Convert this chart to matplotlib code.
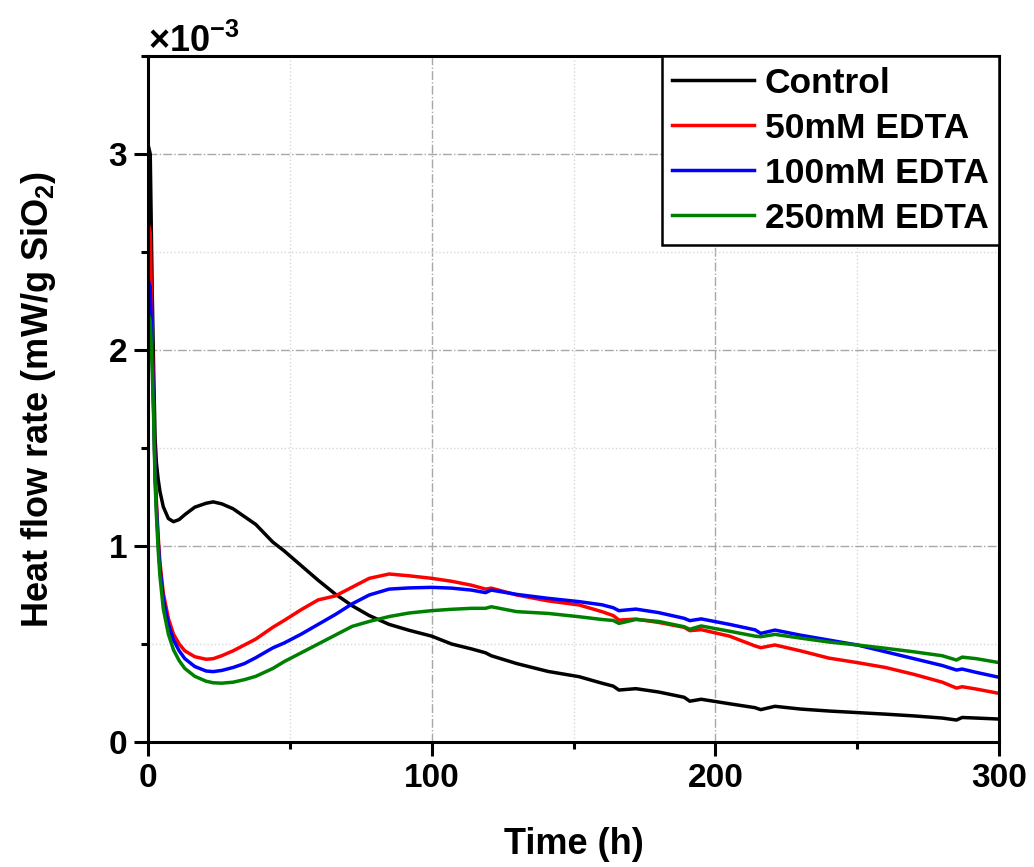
"""Heat flow rate vs time for silica with different EDTA concentrations."""

import matplotlib
matplotlib.use('Agg')
import matplotlib.pyplot as plt
from matplotlib.ticker import MultipleLocator, ScalarFormatter

plt.rcParams['font.family'] = ['Liberation Sans', 'DejaVu Sans']
plt.rcParams['font.weight'] = 'bold'
plt.rcParams['mathtext.fontset'] = 'custom'
plt.rcParams['mathtext.rm'] = 'Liberation Sans:bold'
plt.rcParams['mathtext.it'] = 'Liberation Sans:bold:italic'
plt.rcParams['mathtext.bf'] = 'Liberation Sans:bold'
plt.rcParams['mathtext.default'] = 'rm'

# time axis (h), shared by all series
hours = [0, 0.8, 1.5, 2, 2.5, 3, 3.6, 4.2, 5.4, 7.2, 9, 11, 13, 16.5, 20.5,
         23, 26, 30, 34, 38, 44, 48, 54, 60, 66, 72, 78, 85, 92, 100,
         107, 114, 119, 121, 130, 141, 152, 160, 164, 166, 172, 180, 189, 191, 195,
         205, 214, 216, 221, 230, 240, 250, 260, 270, 280, 285, 287, 292, 300]

# heat flow rate, in units of 1e-3 mW/g SiO2
control = [3.05, 3.0, 2.3, 1.9, 1.55, 1.42, 1.34, 1.28, 1.2, 1.14, 1.124, 1.135, 1.16, 1.198, 1.218,
           1.225, 1.215, 1.19, 1.15, 1.11, 1.02, 0.975, 0.90, 0.825, 0.755, 0.695, 0.645, 0.600, 0.570, 0.540,
           0.500, 0.475, 0.455, 0.440, 0.400, 0.360, 0.333, 0.300, 0.285, 0.265, 0.272, 0.255, 0.228, 0.208, 0.218,
           0.195, 0.175, 0.165, 0.182, 0.168, 0.158, 0.150, 0.142, 0.133, 0.122, 0.112, 0.125, 0.122, 0.117]
edta_50 = [2.65, 2.6, 2.05, 1.72, 1.38, 1.22, 1.05, 0.92, 0.76, 0.63, 0.55, 0.50, 0.465, 0.435, 0.422,
           0.425, 0.44, 0.465, 0.495, 0.525, 0.585, 0.62, 0.675, 0.725, 0.745, 0.79, 0.835, 0.857, 0.848, 0.835,
           0.82, 0.80, 0.78, 0.785, 0.75, 0.72, 0.699, 0.665, 0.645, 0.622, 0.627, 0.61, 0.585, 0.568, 0.573,
           0.54, 0.49, 0.481, 0.495, 0.465, 0.428, 0.405, 0.38, 0.345, 0.305, 0.275, 0.282, 0.27, 0.248]
edta_100 = [2.36, 2.32, 1.98, 1.70, 1.36, 1.19, 1.02, 0.89, 0.73, 0.60, 0.52, 0.465, 0.425, 0.385, 0.362,
            0.359, 0.365, 0.38, 0.40, 0.43, 0.48, 0.505, 0.55, 0.60, 0.65, 0.705, 0.75, 0.78, 0.786, 0.789,
            0.785, 0.775, 0.762, 0.775, 0.753, 0.733, 0.716, 0.70, 0.685, 0.670, 0.678, 0.66, 0.631, 0.619, 0.628,
            0.60, 0.572, 0.554, 0.571, 0.545, 0.52, 0.495, 0.46, 0.425, 0.39, 0.367, 0.372, 0.355, 0.330]
edta_250 = [2.19, 2.15, 1.9, 1.65, 1.33, 1.15, 0.98, 0.85, 0.68, 0.55, 0.47, 0.415, 0.375, 0.335, 0.31,
            0.302, 0.30, 0.305, 0.318, 0.335, 0.375, 0.41, 0.455, 0.50, 0.545, 0.59, 0.615, 0.64, 0.658, 0.67,
            0.677, 0.682, 0.682, 0.69, 0.665, 0.656, 0.639, 0.625, 0.62, 0.605, 0.625, 0.615, 0.588, 0.575, 0.592,
            0.565, 0.54, 0.537, 0.549, 0.53, 0.51, 0.495, 0.478, 0.46, 0.44, 0.418, 0.433, 0.425, 0.405]

labels = ['Control', '50mM EDTA', '100mM EDTA', '250mM EDTA']
colors = ['black', '#FF0000', '#0000FF', '#008000']


def make_plot():
    fig = plt.figure(figsize=(10.34, 8.67), dpi=100)
    ax = fig.add_axes([0.1431, 0.1442, 0.8231, 0.7912])

    for series, lab, col in zip([control, edta_50, edta_100, edta_250], labels, colors):
        ax.plot(hours, [v * 1e-3 for v in series], color=col, lw=2.5, label=lab)

    ax.set_xlim(0, 300)
    ax.set_ylim(0, 3.5e-3)
    ax.xaxis.set_major_locator(MultipleLocator(100))
    ax.xaxis.set_minor_locator(MultipleLocator(50))
    ax.yaxis.set_major_locator(MultipleLocator(1e-3))
    ax.yaxis.set_minor_locator(MultipleLocator(0.5e-3))

    fmt = ScalarFormatter(useMathText=True)
    fmt.set_powerlimits((-3, -3))
    ax.yaxis.set_major_formatter(fmt)
    ax.yaxis.get_offset_text().set_fontsize(26)

    ax.grid(True, which='major', color='#A8A8A8', lw=1.0, ls='-.')
    ax.grid(True, which='minor', color='#D8D8D8', lw=1.0, ls=':')
    ax.set_axisbelow(True)

    for sp in ax.spines.values():
        sp.set_linewidth(2.2)
    ax.tick_params(which='major', direction='out', length=10, width=2.2,
                   labelsize=24, pad=5)
    ax.tick_params(which='minor', direction='out', length=5, width=2.2)

    ax.set_xlabel('Time (h)', fontsize=26, fontweight='bold')
    ax.set_ylabel('Heat flow rate (mW/g SiO$_2$)', fontsize=26, fontweight='bold')
    ax.yaxis.set_label_coords(-0.106, 0.5)
    ax.xaxis.set_label_coords(0.5, -0.124)

    leg = ax.legend(loc='upper right', borderaxespad=0, fancybox=False,
                    edgecolor='black', framealpha=1,
                    handlelength=2.3, handletextpad=0.3, labelspacing=0.34,
                    borderpad=0.3, prop={'weight': 'bold', 'size': 25.5})
    leg.get_frame().set_linewidth(1.8)

    fig.savefig('out.png', dpi=100)


if __name__ == '__main__':
    make_plot()
